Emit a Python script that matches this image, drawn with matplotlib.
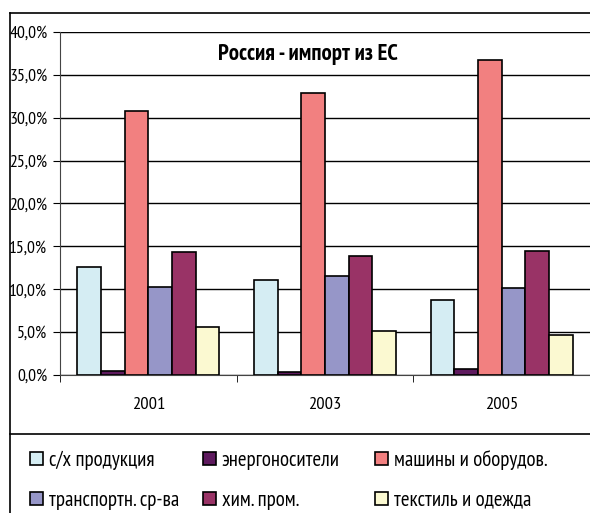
import matplotlib.pyplot as plt
import numpy as np
from matplotlib.lines import Line2D

years = ['2001', '2003', '2005']
series = ['с/х продукция', 'энергоносители', 'машины и оборудов.',
          'транспортн. ср-ва', 'хим. пром.', 'текстиль и одежда']
agro = [12.6, 11.1, 8.8]
energy = [0.45, 0.4, 0.7]
machines = [30.8, 32.9, 36.7]
transport = [10.3, 11.6, 10.1]
chem = [14.3, 13.9, 14.5]
textile = [5.6, 5.1, 4.7]
colors = ['#D5EDF3', '#5E1A5E', '#F28080', '#9696C8', '#993366', '#FBF9D1']

plt.rcParams['font.family'] = ['PT Sans Narrow', 'Liberation Sans', 'DejaVu Sans']

fig = plt.figure(figsize=(5.9, 5.13), dpi=100)
ax = fig.add_axes([60 / 590, 1 - 375 / 513, 530 / 590, 343 / 513])

values = [agro, energy, machines, transport, chem, textile]
x = np.arange(len(years))
w = 0.134
for i, vals in enumerate(values):
    ax.bar(x + (i - 2.5) * w, vals, w, color=colors[i], edgecolor='black',
           linewidth=1.2, label=series[i], zorder=3)

ax.set_xlim(-0.5, 2.5)
ax.set_ylim(0, 40)
ticks = np.arange(0, 41, 5)
ax.set_yticks(ticks)
ax.set_yticklabels([('%.1f%%' % v).replace('.', ',') for v in ticks], fontsize=12.7)
ax.set_xticks(x)
ax.set_xticklabels(years, fontsize=13.3)
ax.set_xticks([-0.5, 0.5, 1.5, 2.5], minor=True)
ax.tick_params(axis='x', which='major', length=0, pad=16)
ax.tick_params(axis='x', which='minor', length=5, direction='out', color='black')
ax.tick_params(axis='y', length=5, direction='out', pad=4)
ax.yaxis.grid(True, color='black', linewidth=1.0, zorder=0)
for s in ['top', 'right']:
    ax.spines[s].set_visible(False)
ax.spines['left'].set_color('#444444')
ax.spines['bottom'].set_color('#444444')
ax.axhline(40, color='#999999', linewidth=1.5, zorder=1)

fig.text(308 / 590, 1 - 55 / 513, 'Россия - импорт из ЕС', ha='center', va='center',
         fontsize=16.4, fontweight='bold')

# рамка
fig.add_artist(Line2D([10 / 590, 10 / 590], [0, 1 - 13 / 513], color='black', linewidth=1.2))
fig.add_artist(Line2D([10 / 590, 1], [1 - 13 / 513, 1 - 13 / 513], color='black', linewidth=1.2))
fig.add_artist(Line2D([10 / 590, 1], [1 - 434 / 513, 1 - 434 / 513], color='black', linewidth=1.2))

handles, labels = ax.get_legend_handles_labels()
cols = [30, 203, 375]
rows = [460, 500]
for k in range(6):
    leg = fig.legend([handles[k]], [labels[k]], loc='center left',
                     bbox_to_anchor=(cols[k % 3] / 590, 1 - rows[k // 3] / 513),
                     frameon=False, fontsize=15, handlelength=0.6, handleheight=0.6,
                     handletextpad=0.3, borderpad=0, borderaxespad=0)

fig.savefig('out.png', dpi=100)
